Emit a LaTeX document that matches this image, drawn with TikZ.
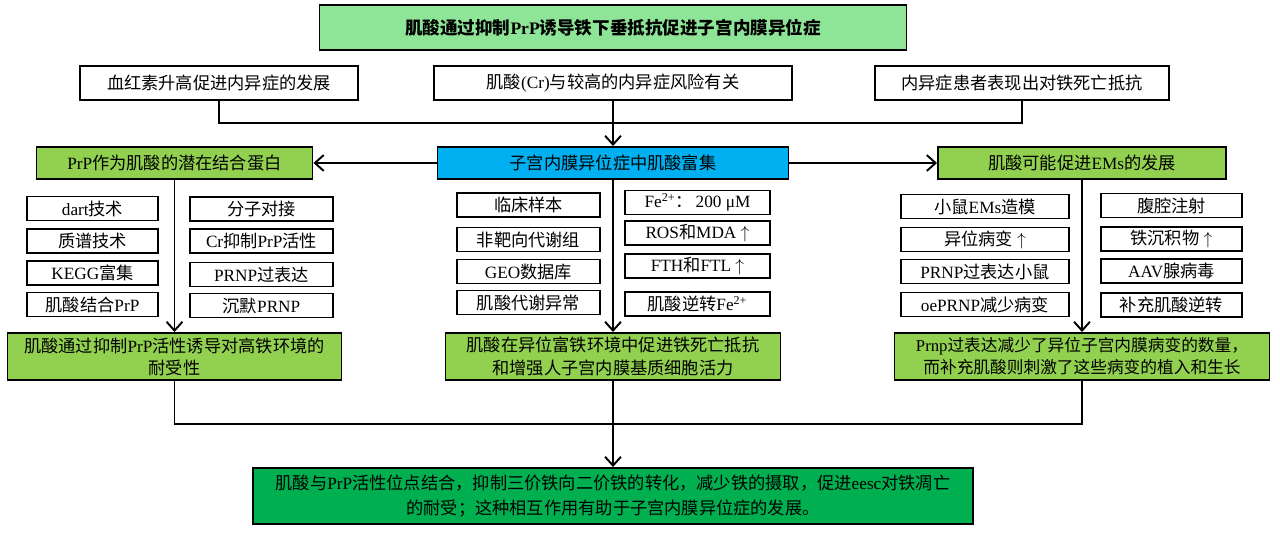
\documentclass[tikz,border=0pt]{standalone}
\usepackage{fontspec}
\setmainfont{Liberation Serif}
\newfontfamily\zhfont{Noto Sans CJK SC}
% switch to the CJK font for Chinese characters
\XeTeXinterchartokenstate=1
\newXeTeXintercharclass\zhclass
\newcount\zhc
\def\zhrange#1#2{\zhc=#1\relax
  \loop\XeTeXcharclass\zhc=\zhclass\relax
  \ifnum\zhc<#2\relax\advance\zhc by 1\relax\repeat}
\zhrange{"3000}{"303F}
\zhrange{"4E00}{"9FFF}
\zhrange{"FF00}{"FFEF}
\XeTeXinterchartoks 0 \zhclass={\zhfont}
\XeTeXinterchartoks 4095 \zhclass={\zhfont}
\XeTeXinterchartoks \zhclass 0={\rmfamily}
\XeTeXinterchartoks \zhclass 4095={\rmfamily}
\usetikzlibrary{arrows.meta,positioning}
\definecolor{tgreen}{HTML}{8EE598}
\definecolor{lgreen}{HTML}{92D050}
\definecolor{cblue}{HTML}{00B0F0}
\definecolor{dgreen}{HTML}{00B050}
\tikzset{
  wbox/.style={draw=black,fill=white,line width=1.1pt,inner sep=1pt,align=center,font=\fontsize{9.8}{12.6}\selectfont},
  hd/.style={wbox,fill=tgreen,font=\bfseries\fontsize{10}{12}\selectfont},
  obs/.style={wbox,minimum height=0.68cm},
  gbox/.style={wbox,fill=lgreen},
  bbox/.style={wbox,fill=cblue},
  dbox/.style={wbox,fill=dgreen,font=\fontsize{9.8}{14.2}\selectfont},
  sm/.style={wbox,minimum height=0.48cm},
  ln/.style={line width=1.1pt,draw=black},
  arr/.style={ln,-{Straight Barb[length=5pt,width=9pt,line width=1.1pt]}},
}
\begin{document}
\begin{tikzpicture}
  \useasboundingbox (0,0) rectangle (25.6,10.68);
  % title
  \node[hd,minimum width=11.74cm,minimum height=0.9cm] (title) at (12.26,10.13) {肌酸通过抑制PrP诱导铁下垂抵抗促进子宫内膜异位症};
  % evidence row
  \node[obs,minimum width=5.56cm] (lit1) at (4.38,9.02) {血红素升高促进内异症的发展};
  \node[obs,minimum width=7.16cm] (lit2) at (12.26,9.02) {肌酸(Cr)与较高的内异症风险有关};
  \node[obs,minimum width=5.88cm] (lit3) at (20.44,9.02) {内异症患者表现出对铁死亡抵抗};
  \coordinate (hub) at (12.26,8.22);
  \draw[ln] (lit1.south) |- (hub) -| (lit3.south);
  % middle row
  \node[bbox,minimum width=7.02cm,minimum height=0.64cm] (enr) at (12.26,7.42) {子宫内膜异位症中肌酸富集};
  \node[gbox,minimum width=5.52cm,minimum height=0.64cm] (prp) at (3.49,7.42) {PrP作为肌酸的潜在结合蛋白};
  \node[gbox,minimum width=5.76cm,minimum height=0.64cm] (ems) at (21.64,7.42) {肌酸可能促进EMs的发展};
  \draw[arr] (lit2.south) -- (enr.north);
  \draw[arr] (enr.west) -- (prp.east);
  \draw[arr] (enr.east) -- (ems.west);
  % methods, left
  \foreach \y/\t [count=\i] in {6.51/dart技术,5.86/质谱技术,5.22/KEGG富集,4.59/肌酸结合PrP}
    \node[sm,minimum width=2.62cm] (pa\i) at (1.85,\y) {\t};
  \foreach \y/\t [count=\i] in {6.50/分子对接,5.86/Cr抑制PrP活性,5.19/PRNP过表达,4.57/沉默PRNP}
    \node[sm,minimum width=2.86cm] (pb\i) at (5.23,\y) {\t};
  % methods, middle
  \foreach \y/\t [count=\i] in {6.58/临床样本,5.89/非靶向代谢组,5.25/GEO数据库,4.63/肌酸代谢异常}
    \node[sm,minimum width=2.86cm] (ea\i) at (10.57,\y) {\t};
  \foreach \y/\t [count=\i] in {6.63/Fe\textsuperscript{2+}：\,200 μM,6.02/ROS和MDA $\uparrow$,5.36/FTH和FTL $\uparrow$,4.60/肌酸逆转Fe\textsuperscript{2+}}
    \node[sm,minimum width=2.9cm] (eb\i) at (13.95,\y) {\t};
  % methods, right
  \foreach \y/\t [count=\i] in {6.55/小鼠EMs造模,5.89/异位病变 $\uparrow$,5.25/PRNP过表达小鼠,4.59/oePRNP减少病变}
    \node[sm,minimum width=3.36cm] (ma\i) at (19.70,\y) {\t};
  \foreach \y/\t [count=\i] in {6.57/腹腔注射,5.90/铁沉积物 $\uparrow$,5.26/AAV腺病毒,4.58/补充肌酸逆转}
    \node[sm,minimum width=2.82cm] (mb\i) at (23.43,\y) {\t};
  % results
  \node[gbox,minimum width=6.68cm,minimum height=0.94cm] (res1) at (3.49,3.55) {肌酸通过抑制PrP活性诱导对高铁环境的\\耐受性};
  \node[gbox,minimum width=6.7cm,minimum height=0.94cm] (res2) at (12.26,3.55) {肌酸在异位富铁环境中促进铁死亡抵抗\\和增强人子宫内膜基质细胞活力};
  \node[gbox,minimum width=7.5cm,minimum height=0.94cm,font=\fontsize{9.5}{12.6}\selectfont] (res3) at (21.64,3.55) {Prnp过表达减少了异位子宫内膜病变的数量，\\而补充肌酸则刺激了这些病变的植入和生长};
  \draw[arr] (prp.south) -- (res1.north);
  \draw[arr] (enr.south) -- (res2.north);
  \draw[arr] (ems.south) -- (res3.north);
  % conclusion
  \coordinate (low) at (12.26,2.2);
  \draw[ln] (res1.south) |- (low) -| (res3.south);
  \node[dbox,minimum width=14.4cm,minimum height=1.12cm] (concl) at (12.26,0.76) {肌酸与PrP活性位点结合，抑制三价铁向二价铁的转化，减少铁的摄取，促进eesc对铁凋亡\\的耐受；这种相互作用有助于子宫内膜异位症的发展。};
  \draw[arr] (res2.south) -- (concl.north);
\end{tikzpicture}
\end{document}
